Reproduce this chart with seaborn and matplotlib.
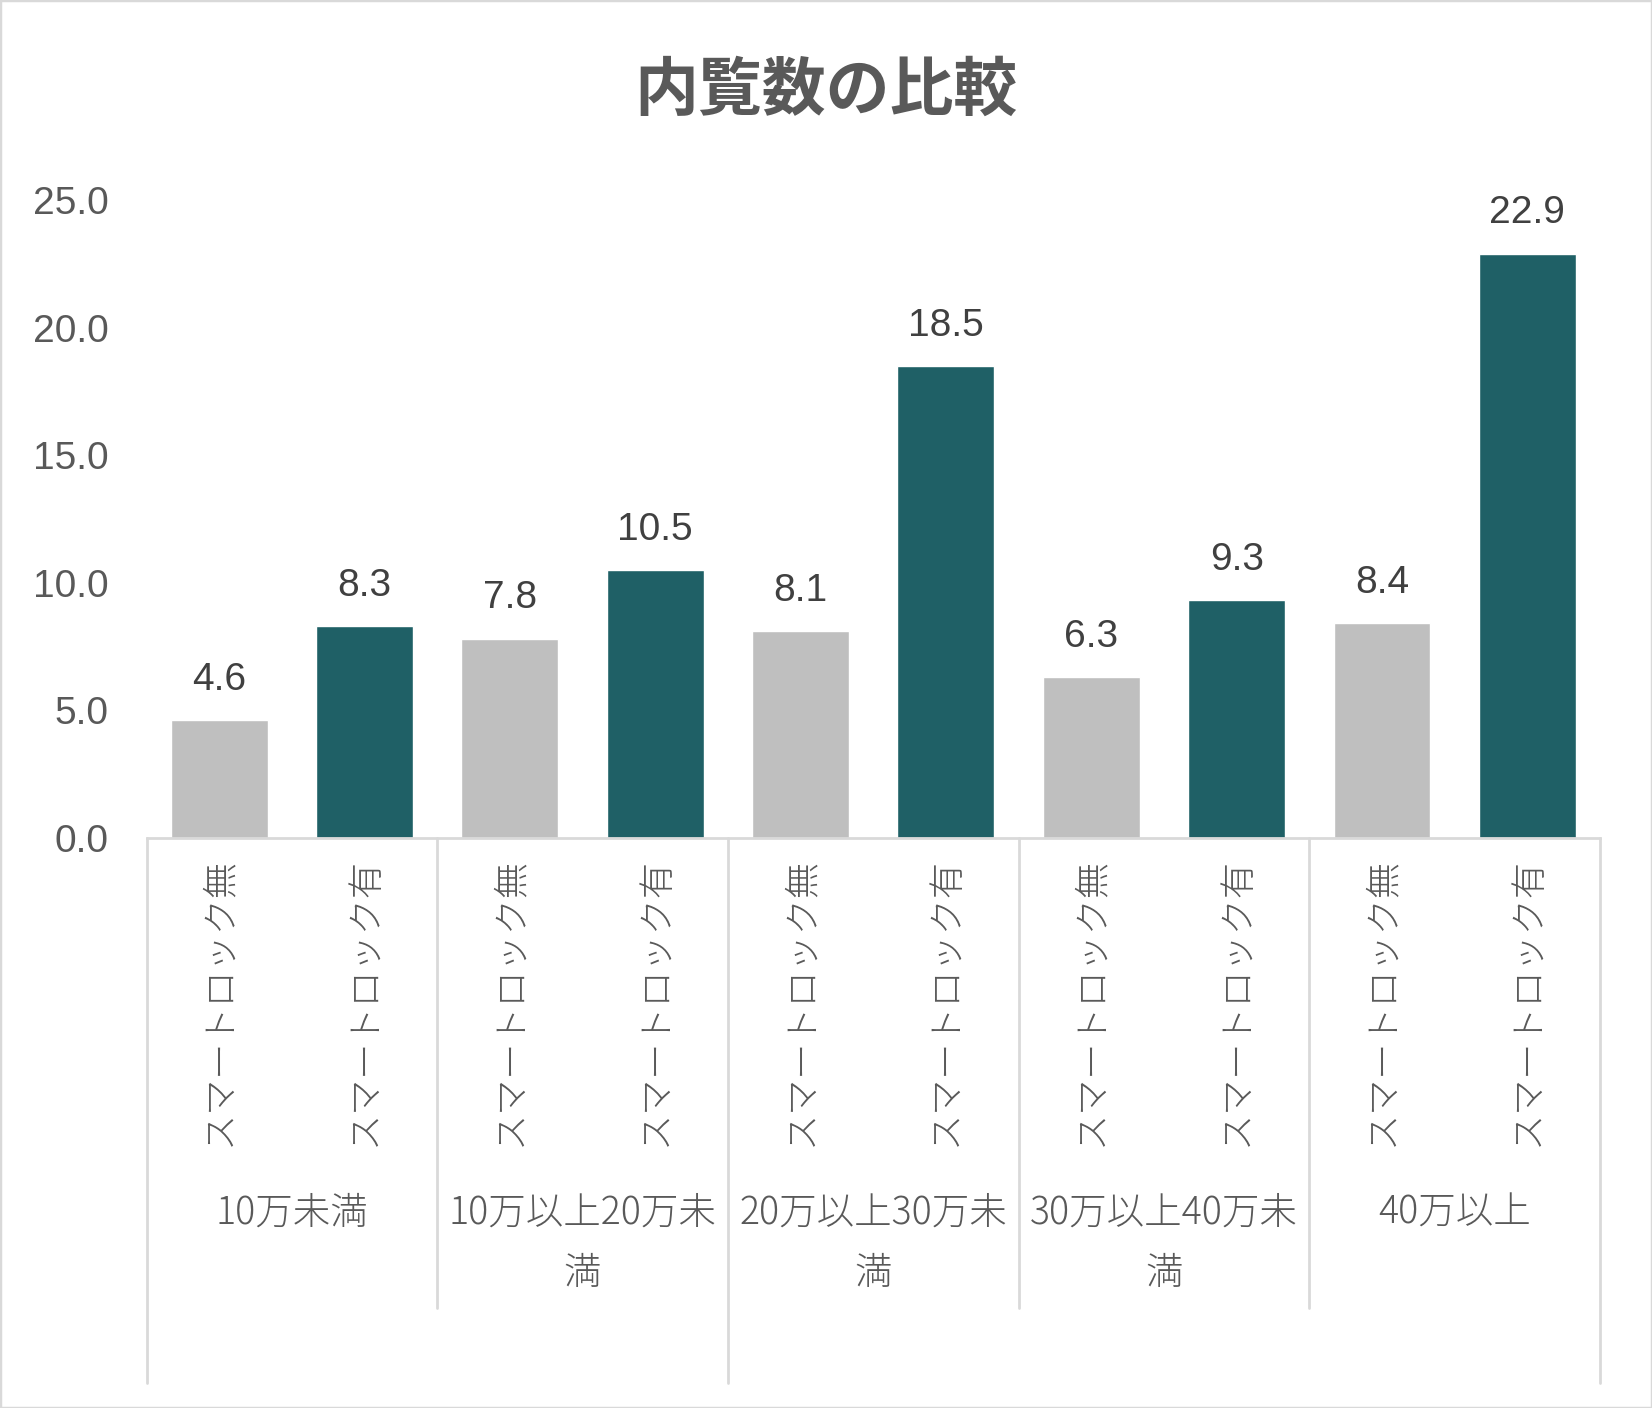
import pandas as pd
import matplotlib.pyplot as plt
import seaborn as sns
from matplotlib.lines import Line2D
from matplotlib.patches import Rectangle

# Chart data
groups = ["10万未満", "10万以上20万未満", "20万以上30万未満", "30万以上40万未満", "40万以上"]
lock_labels = ["スマートロック無", "スマートロック有"]
values_without = [4.6, 7.8, 8.1, 6.3, 8.4]
values_with = [8.3, 10.5, 18.5, 9.3, 22.9]
y_ticks = [0, 5, 10, 15, 20, 25]

GREY = "#BFBFBF"
TEAL = "#1F6066"
LINE = "#D9D9D9"
TEXT = "#595959"

# Build long table: one row per bar
rows = []
for g, v0, v1 in zip(groups, values_without, values_with):
    rows.append({"group": g, "lock": lock_labels[0], "value": v0})
    rows.append({"group": g, "lock": lock_labels[1], "value": v1})
df = pd.DataFrame(rows)
df["key"] = df["group"] + "|" + df["lock"]

sns.set_theme(style="white")
plt.rcParams["font.family"] = ["Liberation Sans", "Noto Sans CJK JP"]
CJK = ["Noto Sans CJK JP", "DejaVu Sans"]

fig = plt.figure(figsize=(16.52, 14.08), dpi=100)
ax = fig.add_axes([146.5 / 1652, 1 - 837.6 / 1408, (1600 - 146.5) / 1652, (837.6 - 200) / 1408])

sns.barplot(data=df, x="key", y="value", hue="lock", order=list(df["key"]),
            palette={lock_labels[0]: GREY, lock_labels[1]: TEAL},
            dodge=False, width=0.667, saturation=1, legend=False, ax=ax)

# Value labels above bars
for c in ax.containers:
    ax.bar_label(c, fmt="%.1f", padding=16, fontsize=28, color="#404040")

ax.set_ylim(0, 25)
ax.set_xlim(-0.5, len(df) - 0.5)
ax.set_yticks(y_ticks)
ax.set_yticklabels([f"{t:.1f}" for t in y_ticks])
ax.tick_params(axis="y", length=0, pad=27.5, labelsize=28, labelcolor=TEXT)

ax.set_xticks(range(len(df)))
ax.set_xticklabels(df["lock"], rotation=90, fontsize=26, color=TEXT,
                   family=CJK, fontweight="light")
ax.tick_params(axis="x", length=0, pad=14)
ax.set_xlabel("")
ax.set_ylabel("")

for s in ["top", "right", "left"]:
    ax.spines[s].set_visible(False)
ax.spines["bottom"].set_color(LINE)
ax.spines["bottom"].set_linewidth(2)

# Group labels (second level of the category axis)
px_h = 837.6 - 200
for i, g in enumerate(groups):
    lines = [g[:9], g[9:]] if len(g) > 9 else [g]
    for j, line in enumerate(lines):
        ax.annotate(line, xy=(2 * i + 0.5, 0), xycoords=("data", "axes fraction"),
                    xytext=(0, -(1213 - 837.6 + j * 60) * 0.72), textcoords="offset points",
                    ha="center", va="center", fontsize=27, color=TEXT,
                    family=CJK, fontweight="light", annotation_clip=False)

# Separator lines between groups
trans = ax.get_xaxis_transform()
for k in range(len(groups) + 1):
    x = 2 * k - 0.5
    long_line = x in (-0.5, 3.5, len(df) - 0.5)
    y_end = -(1383 - 837.6) / px_h if long_line else -(1308 - 837.6) / px_h
    ax.add_line(Line2D([x, x], [0, y_end], transform=trans, color=LINE,
                       lw=2, clip_on=False))

fig.text(0.5, 1 - 91 / 1408, "内覧数の比較", ha="center", va="center",
         fontsize=46, fontweight="bold", color=TEXT, family=CJK)

fig.patches.append(Rectangle((0, 0), 1, 1, transform=fig.transFigure, fill=False,
                             edgecolor=LINE, lw=2.5))

plt.savefig("out.png", dpi=100)
plt.close()
